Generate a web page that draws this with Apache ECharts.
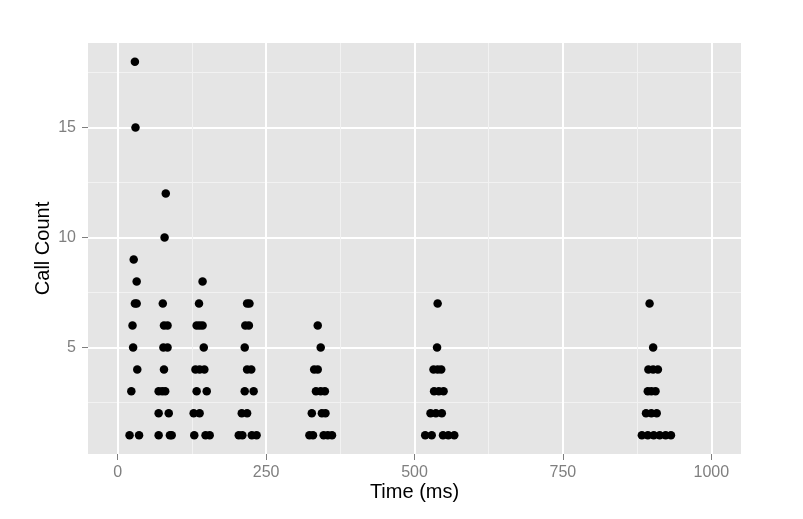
<!DOCTYPE html>
<html><head><meta charset="utf-8">
<script src="https://cdn.jsdelivr.net/npm/echarts@6/dist/echarts.min.js"></script>
<style>html,body{margin:0;padding:0;background:#fff}#c{width:803px;height:519px}</style>
</head><body><div id="c"></div>
<script>
// Time (ms) and Call Count for every point, clusters in order
const timeMs = [
  29,30,27,32,29,32,25,26,33,23,20,36,
  81,79,76,78,84,77,84,78,69,75,80,69,86,69,88,91,
  143,137,133,138,143,145,131,138,146,133,150,128,138,129,148,155,
  218,222,215,221,214,218,225,214,229,209,218,204,210,226,234,
  337,342,331,337,334,342,349,327,344,350,323,329,347,354,361,
  539,538,532,539,545,533,541,549,527,536,546,518,529,548,557,567,
  896,902,894,902,910,893,899,906,890,899,908,883,893,903,913,923,932
];
const callCount = [
  18,15,9,8,7,7,6,5,4,3,1,1,
  12,10,7,6,6,5,5,4,3,3,3,2,2,1,1,1,
  8,7,6,6,6,5,4,4,4,3,3,2,2,1,1,1,
  7,7,6,6,5,4,4,3,3,2,2,1,1,1,1,
  6,5,4,4,3,3,3,2,2,2,1,1,1,1,1,
  7,5,4,4,4,3,3,3,2,2,2,1,1,1,1,1,
  7,5,4,4,4,3,3,3,2,2,2,1,1,1,1,1,1
];
const xTicks = [0, 250, 500, 750, 1000];
const xMinorTicks = [125, 375, 625, 875];
const yTicks = [5, 10, 15];
const yMinorTicks = [2.5, 7.5, 12.5, 17.5];
const xLimits = [-50, 1050];
const yLimits = [0.15, 18.85];

const points = timeMs.map((t, i) => [t, callCount[i]]);
const FONT = 'Liberation Sans, Arial, sans-serif';
const chart = echarts.init(document.getElementById('c'), null, {renderer: 'canvas'});

function minorAxis(lim, vals, pos) {
  return {
    type: 'value', min: lim[0], max: lim[1], position: pos,
    axisLine: {show: false, onZero: false},
    axisTick: {show: false, customValues: vals},
    axisLabel: {show: false, customValues: vals},
    splitLine: {show: true, lineStyle: {color: '#F2F2F2', width: 1}}
  };
}

chart.setOption({
  animation: false,
  grid: {left: 88, right: 62, top: 43, bottom: 65, show: true,
         backgroundColor: '#E5E5E5', borderWidth: 0,
         outerBoundsMode: 'none', containLabel: false},
  xAxis: [
    minorAxis(xLimits, xMinorTicks, 'bottom'),
    {
      type: 'value', min: xLimits[0], max: xLimits[1], position: 'bottom',
      name: 'Time (ms)', nameLocation: 'middle', nameGap: 28, nameMoveOverlap: false,
      nameTextStyle: {color: '#000', fontSize: 20, fontFamily: FONT},
      axisLine: {show: false, onZero: false},
      axisTick: {show: true, length: 6, customValues: xTicks,
                 lineStyle: {color: '#7F7F7F', width: 1}},
      axisLabel: {customValues: xTicks, color: '#7F7F7F', fontSize: 16,
                  fontFamily: FONT, margin: 11, formatter: v => String(v)},
      splitLine: {show: true, lineStyle: {color: '#FFFFFF', width: 2}}
    }
  ],
  yAxis: [
    minorAxis(yLimits, yMinorTicks, 'left'),
    {
      type: 'value', min: yLimits[0], max: yLimits[1], position: 'left',
      name: 'Call Count', nameLocation: 'middle', nameGap: 35, nameRotate: 90,
      nameMoveOverlap: false,
      nameTextStyle: {color: '#000', fontSize: 20, fontFamily: FONT},
      axisLine: {show: false, onZero: false},
      axisTick: {show: true, length: 6, customValues: yTicks,
                 lineStyle: {color: '#7F7F7F', width: 1}},
      axisLabel: {customValues: yTicks, color: '#7F7F7F', fontSize: 16,
                  fontFamily: FONT, margin: 12, formatter: v => String(v)},
      splitLine: {show: true, lineStyle: {color: '#FFFFFF', width: 2}}
    }
  ],
  series: [{
    type: 'scatter', xAxisIndex: 1, yAxisIndex: 1,
    data: points, symbol: 'circle', symbolSize: 8.5,
    itemStyle: {color: '#000000', opacity: 1}
  }]
});
</script></body></html>
